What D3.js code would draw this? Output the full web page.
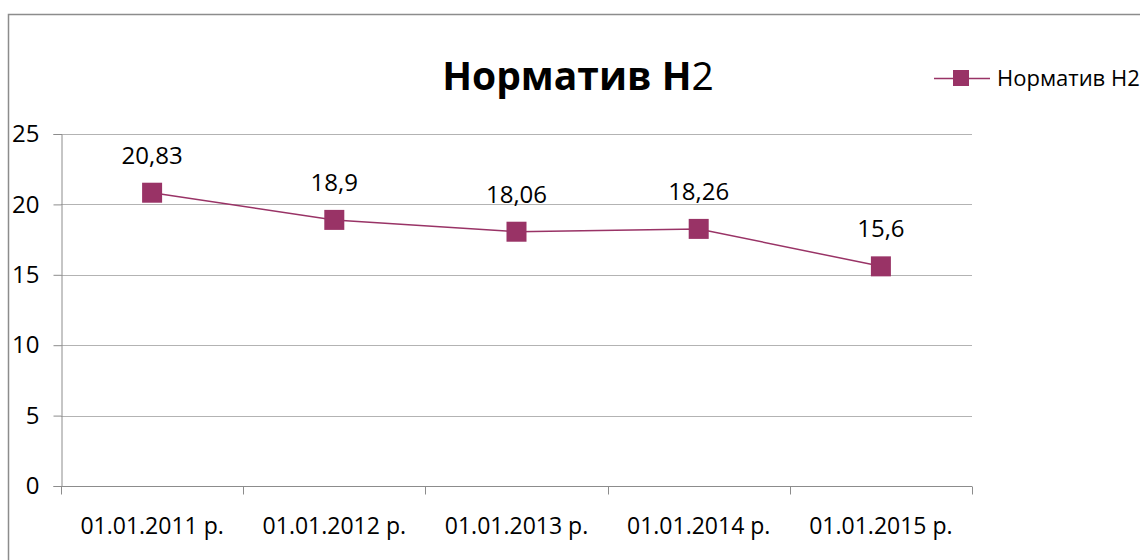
<!DOCTYPE html>
<html>
<head>
<meta charset="utf-8">
<script src="https://cdn.jsdelivr.net/npm/d3@7"></script>
<style>
  body { margin: 0; background: #fff; }
  svg { display: block; font-family: "Open Sans", "Noto Sans", sans-serif; }
</style>
</head>
<body>
<svg id="chart" width="1140" height="560"></svg>
<script>
// data
var categories = ["01.01.2011 р.", "01.01.2012 р.", "01.01.2013 р.", "01.01.2014 р.", "01.01.2015 р."];
var values = [20.83, 18.9, 18.06, 18.26, 15.6];
var valueLabels = ["20,83", "18,9", "18,06", "18,26", "15,6"];
var yTicks = [0, 5, 10, 15, 20, 25];
var seriesName = "Норматив Н2";

var color = "#993366";
var svg = d3.select("#chart");

// outer frame
svg.append("rect")
  .attr("x", 8.5).attr("y", 14.5)
  .attr("width", 1160).attr("height", 600)
  .attr("fill", "none").attr("stroke", "#8c8c8c").attr("stroke-width", 1.5);

var plotL = 61, plotR = 972, plotT = 134, plotB = 486;

var x = d3.scaleBand().domain(categories).range([plotL, plotR]);
var y = d3.scaleLinear().domain([0, 25]).range([plotB, plotT]);

// gridlines
svg.append("g").selectAll("line")
  .data(yTicks.filter(function(d){ return d > 0; }))
  .enter().append("line")
  .attr("x1", plotL).attr("x2", plotR)
  .attr("y1", function(d){ return Math.round(y(d)) + 0.5; })
  .attr("y2", function(d){ return Math.round(y(d)) + 0.5; })
  .attr("stroke", "#b3b3b3").attr("stroke-width", 1);

// y axis
var yAxis = svg.append("g")
  .attr("transform", "translate(" + (plotL + 0.5) + ",0)")
  .call(d3.axisLeft(y).tickValues(yTicks).tickSize(8).tickPadding(14).tickFormat(d3.format("d")));
yAxis.select(".domain").attr("stroke", "#8c8c8c");
yAxis.selectAll(".tick line").attr("stroke", "#8c8c8c");
yAxis.selectAll(".tick text").attr("font-size", 24).attr("fill", "#000").attr("font-family", "Open Sans");

// x axis
var xAxis = svg.append("g")
  .attr("transform", "translate(0," + (plotB + 0.5) + ")")
  .call(d3.axisBottom(x).tickSize(0).tickPadding(31));
xAxis.select(".domain").attr("stroke", "#8c8c8c").attr("d", "M" + plotL + ",0H" + plotR);
xAxis.selectAll(".tick text").attr("font-size", 23).attr("fill", "#000").attr("font-family", "Open Sans");
// category boundary ticks
var bounds = categories.map(function(c){ return x(c); }).concat([plotR]);
xAxis.selectAll(".bound").data(bounds).enter().append("line")
  .attr("class", "bound")
  .attr("x1", function(d){ return Math.round(d) + 0.5; })
  .attr("x2", function(d){ return Math.round(d) + 0.5; })
  .attr("y1", 0).attr("y2", 8)
  .attr("stroke", "#8c8c8c");

// series line
var pts = categories.map(function(c, i){ return [x(c) + x.bandwidth() / 2, y(values[i])]; });
svg.append("path")
  .attr("d", d3.line()(pts))
  .attr("fill", "none").attr("stroke", color).attr("stroke-width", 1.5);

svg.append("g").selectAll("rect")
  .data(pts).enter().append("rect")
  .attr("x", function(d){ return d[0] - 10; })
  .attr("y", function(d){ return d[1] - 10; })
  .attr("width", 20).attr("height", 20)
  .attr("fill", color);

svg.append("g").selectAll("text")
  .data(pts).enter().append("text")
  .attr("x", function(d){ return d[0]; })
  .attr("y", function(d){ return d[1] - 29; })
  .attr("text-anchor", "middle")
  .attr("font-size", 24)
  .attr("fill", "#000")
  .text(function(d, i){ return valueLabels[i]; });

// title
var title = svg.append("text")
  .attr("x", 578).attr("y", 90)
  .attr("text-anchor", "middle")
  .attr("font-size", 39)
  .attr("font-family", "Open Sans");
title.append("tspan").attr("font-weight", "bold").text("Норматив Н");
title.append("tspan").attr("font-weight", "normal").text("2");

// legend
var lg = svg.append("g").attr("transform", "translate(934,78)");
lg.append("line").attr("x1", 0).attr("x2", 56).attr("y1", 0.5).attr("y2", 0.5)
  .attr("stroke", color).attr("stroke-width", 1.5);
lg.append("rect").attr("x", 19).attr("y", -8).attr("width", 16).attr("height", 16).attr("fill", color);
lg.append("text").attr("x", 63).attr("y", 8)
  .attr("font-size", 22).attr("fill", "#000").text(seriesName);
</script>
</body>
</html>
